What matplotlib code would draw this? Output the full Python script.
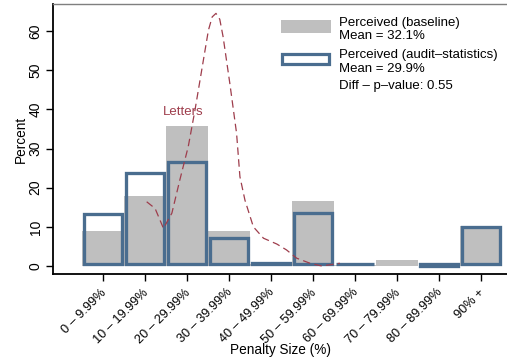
import matplotlib
matplotlib.use("Agg")
import matplotlib.pyplot as plt
from matplotlib.patches import Rectangle
from matplotlib.transforms import ScaledTranslation

plt.rcParams['font.family'] = ['Liberation Sans', 'DejaVu Sans']

categories = ["0 – 9.99%", "10 – 19.99%", "20 – 29.99%", "30 – 39.99%",
              "40 – 49.99%", "50 – 59.99%", "60 – 69.99%", "70 – 79.99%",
              "80 – 89.99%", "90% +"]
baseline = [9.0, 17.9, 35.7, 8.9, 0.5, 16.6, 0.3, 1.5, 0.0, 10.2]
audit = [13.8, 24.1, 27.1, 7.5, 1.3, 13.9, 1.0, 0.0, 0.3, 10.5]

# "Letters" density curve (penalty %, percent)
letters_pct = [15.4, 17.4, 19.4, 21.4, 23.3, 25.3, 26.9, 28.5, 30.1, 31.0, 31.9,
               32.8, 33.6, 35.2, 36.8, 37.6, 38.8, 40.8, 43.2, 46.4, 48.7,
               51.1, 54.3, 57.1, 61.4]
letters_val = [16.4, 14.7, 9.6, 13.5, 22.0, 30.5, 39.8, 50.0, 60.2, 63.6, 64.5,
               63.0, 58.5, 46.6, 33.9, 22.8, 16.8, 10.0, 7.1, 5.6, 4.1,
               2.0, 0.7, 0.0, 0.7]

legend_lines = ["Perceived (baseline)", "Mean = 32.1%",
                "Perceived (audit\u2013statistics)", "Mean = 29.9%",
                "Diff \u2013 p\u2013value: 0.55"]

GRAY = "#bfbfbf"
BLUE = "#4a6d8f"
RED = "#9e3d4c"

W, H = 507, 362
fig = plt.figure(figsize=(W / 100, H / 100), dpi=100)
ax_l, ax_r, ax_t, ax_b = 53, 507, 3.5, 274
ax = fig.add_axes([ax_l / W, (H - ax_b) / H, (ax_r - ax_l) / W, (ax_b - ax_t) / H])

xpx = 42.0
x0px = 103.0
ax.set_xlim((ax_l - x0px) / xpx, (ax_r - x0px) / xpx)
ypx = (266 - 31) / 60.0
ax.set_ylim(-(ax_b - 266) / ypx, (266 - ax_t) / ypx)

xs = list(range(len(categories)))
ax.bar(xs, baseline, width=1.0, color=GRAY, linewidth=0, zorder=1)

lw_px = 3.3
dx = lw_px / 2 / xpx
dy = lw_px / 2 / ypx
for i, v in enumerate(audit):
    if v > 0:
        ax.add_patch(Rectangle((i - 0.5 + dx, dy), 1 - 2 * dx, v - 2 * dy,
                               facecolor="none", edgecolor=BLUE,
                               linewidth=lw_px * 0.72, joinstyle="miter", zorder=2))

lx = [(p - 5) / 10 for p in letters_pct]
ax.plot(lx, letters_val, color=RED, linewidth=0.9, dashes=(6, 3.5), zorder=3)
ax.text(1.90, 39.3, "Letters", color=RED, fontsize=9.5, ha="center", va="center", zorder=4)

ax.set_xticks(xs)
ax.set_xticklabels(categories, rotation=45, ha="right", rotation_mode="anchor", fontsize=9.2)
ax.set_yticks(range(0, 61, 10))
ax.set_yticklabels([str(v) for v in range(0, 61, 10)], rotation=90, va="center", fontsize=10)
ax.tick_params(axis="both", length=5, width=1.0, color="black", pad=4)
ax.tick_params(axis="y", pad=2.4)
shift = ScaledTranslation(-3 / 100, 0, fig.dpi_scale_trans)
for lab in ax.get_xticklabels():
    lab.set_transform(lab.get_transform() + shift)

ax.spines["right"].set_visible(False)
ax.spines["top"].set_color("#7f7f7f")
ax.spines["top"].set_linewidth(1.0)
for s in ("left", "bottom"):
    ax.spines[s].set_linewidth(1.3)
    ax.spines[s].set_color("black")

fig.text(21 / W, 1 - 139 / H, "Percent", rotation=90, ha="center", va="center", fontsize=9.8)
fig.text(281 / W, 1 - 350 / H, "Penalty Size (%)", ha="center", va="center", fontsize=9.8)

# legend
def fx(px):
    return px / W

def fy(py):
    return 1 - py / H

fig.add_artist(Rectangle((fx(280.7), fy(33.3)), (331 - 280.7) / W, (33.3 - 20) / H,
                         transform=fig.transFigure, facecolor=GRAY, edgecolor="none"))
fig.add_artist(Rectangle((fx(282.3), fy(63.7)), (329.4 - 282.3) / W, (63.7 - 54.3) / H,
                         transform=fig.transFigure, facecolor="white", edgecolor=BLUE,
                         linewidth=3.2 * 0.72, joinstyle="miter"))
baselines = [26, 39.3, 58.3, 71.7, 89.3]
for txt, by in zip(legend_lines, baselines):
    fig.text(fx(339), fy(by), txt, ha="left", va="baseline", fontsize=9.5)

fig.savefig("out.png", dpi=100)
